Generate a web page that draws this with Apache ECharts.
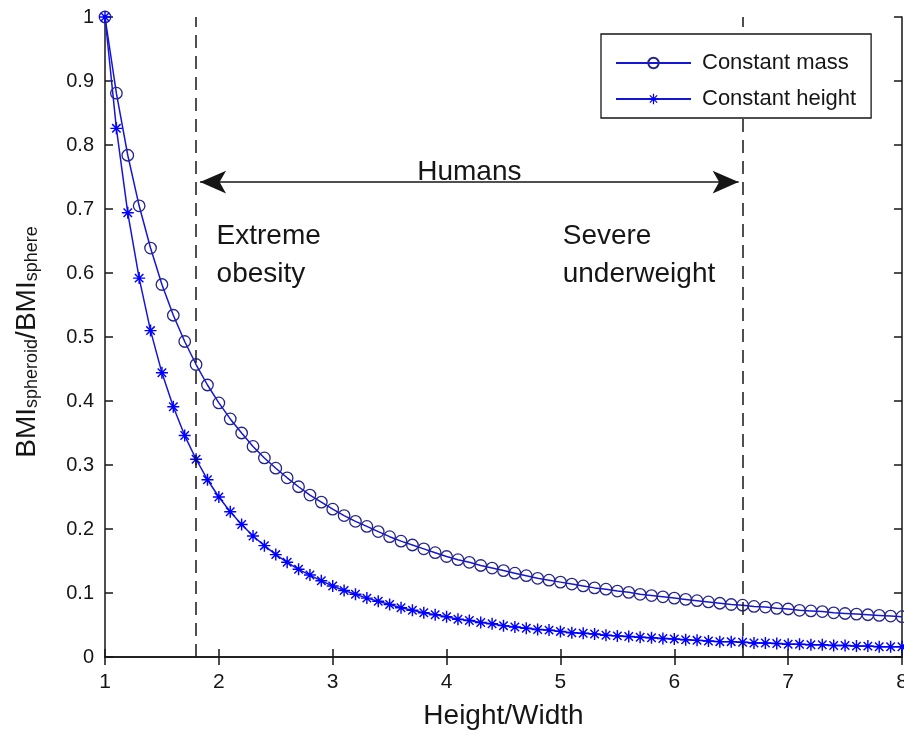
<!DOCTYPE html>
<html>
<head>
<meta charset="utf-8">
<title>BMI spheroid / sphere</title>
<script src="https://cdn.jsdelivr.net/npm/echarts/dist/echarts.min.js"></script>
<style>
  html, body { margin: 0; padding: 0; background: #fff; overflow: hidden; }
  #main { width: 904px; height: 736px; }
</style>
</head>
<body>
<div id="main"></div>
<script>
// Height/Width ratio, one marker every 0.1
var xs = [
  1.0, 1.1, 1.2, 1.3, 1.4, 1.5, 1.6, 1.7, 1.8, 1.9,
  2.0, 2.1, 2.2, 2.3, 2.4, 2.5, 2.6, 2.7, 2.8, 2.9,
  3.0, 3.1, 3.2, 3.3, 3.4, 3.5, 3.6, 3.7, 3.8, 3.9,
  4.0, 4.1, 4.2, 4.3, 4.4, 4.5, 4.6, 4.7, 4.8, 4.9,
  5.0, 5.1, 5.2, 5.3, 5.4, 5.5, 5.6, 5.7, 5.8, 5.9,
  6.0, 6.1, 6.2, 6.3, 6.4, 6.5, 6.6, 6.7, 6.8, 6.9,
  7.0, 7.1, 7.2, 7.3, 7.4, 7.5, 7.6, 7.7, 7.8, 7.9,
  8.0
];
var constantMass = [
  1.000, 0.881, 0.784, 0.705, 0.639, 0.582, 0.534, 0.493, 0.457, 0.425,
  0.397, 0.372, 0.350, 0.329, 0.311, 0.295, 0.280, 0.266, 0.253, 0.242,
  0.231, 0.221, 0.212, 0.204, 0.196, 0.188, 0.181, 0.175, 0.169, 0.163,
  0.157, 0.152, 0.148, 0.143, 0.139, 0.135, 0.131, 0.127, 0.123, 0.120,
  0.117, 0.114, 0.111, 0.108, 0.106, 0.103, 0.101, 0.098, 0.096, 0.094,
  0.092, 0.090, 0.088, 0.086, 0.084, 0.082, 0.081, 0.079, 0.078, 0.076,
  0.075, 0.073, 0.072, 0.071, 0.069, 0.068, 0.067, 0.066, 0.065, 0.064,
  0.063
];
var constantHeight = [
  1.000, 0.826, 0.694, 0.592, 0.510, 0.444, 0.391, 0.346, 0.309, 0.277,
  0.250, 0.227, 0.207, 0.189, 0.174, 0.160, 0.148, 0.137, 0.128, 0.119,
  0.111, 0.104, 0.098, 0.092, 0.087, 0.082, 0.077, 0.073, 0.069, 0.066,
  0.063, 0.059, 0.057, 0.054, 0.052, 0.049, 0.047, 0.045, 0.043, 0.042,
  0.040, 0.038, 0.037, 0.036, 0.034, 0.033, 0.032, 0.031, 0.030, 0.029,
  0.028, 0.027, 0.026, 0.025, 0.024, 0.024, 0.023, 0.022, 0.022, 0.021,
  0.020, 0.020, 0.019, 0.019, 0.018, 0.018, 0.017, 0.017, 0.016, 0.016,
  0.016
];
var seriesNames = ['Constant mass', 'Constant height'];

// the human range and its labels
var humanMin = 1.8;
var humanMax = 6.6;
var humansY = 0.742;
var notes = [
  { x: 1.98, y: 0.687, text: 'Extreme\nobesity' },
  { x: 5.02, y: 0.687, text: 'Severe\nunderweight' }
];

var font = '"Liberation Sans", Arial, Helvetica, sans-serif';
var ink = '#161616';
var blue = '#1616d8';
// matlab '*' marker
var asterisk = 'path://M8.8 0L11.2 0L11.2 20L8.8 20Z M0 8.8L20 8.8L20 11.2L0 11.2Z ' +
  'M3.8 2.1L17.9 16.2L16.2 17.9L2.1 3.8Z M16.2 2.1L17.9 3.8L3.8 17.9L2.1 16.2Z';

function pairs(ys) {
  return xs.map(function (x, i) { return [x, ys[i]]; });
}

var myChart = echarts.init(document.getElementById('main'));

var boxAxis = {
  axisLine: { show: true, lineStyle: { color: ink, width: 1.5 } },
  axisTick: { show: true, inside: true, length: 8, lineStyle: { color: ink, width: 1.5 } },
  axisLabel: { show: false },
  splitLine: { show: false }
};

var option = {
  animation: false,
  backgroundColor: '#fff',
  grid: { left: 105, right: 2, top: 17, bottom: 79, containLabel: false, outerBoundsMode: 'none' },
  legend: {
    z: 20,
    orient: 'vertical',
    left: 601,
    top: 34,
    padding: [18, 15, 8, 14],
    itemWidth: 75,
    itemHeight: 13,
    itemGap: 14,
    backgroundColor: '#fff',
    borderColor: ink,
    borderWidth: 1.3,
    borderRadius: 0,
    textStyle: { fontSize: 22, color: ink, fontFamily: font, padding: [0, 0, 0, 6] },
    data: seriesNames
  },
  xAxis: [
    Object.assign({
      type: 'value', min: 1, max: 8, interval: 1, position: 'bottom',
      name: 'Height/Width', nameLocation: 'middle', nameGap: 45,
      nameTextStyle: { fontSize: 28, color: ink, fontFamily: font }
    }, boxAxis, {
      axisLabel: { show: true, fontSize: 21, color: ink, fontFamily: font, margin: 15 }
    }),
    Object.assign({ type: 'value', min: 1, max: 8, interval: 1, position: 'top' }, boxAxis)
  ],
  yAxis: [
    Object.assign({ type: 'value', min: 0, max: 1, interval: 0.1, position: 'left' }, boxAxis, {
      axisLabel: { show: true, fontSize: 20, color: ink, fontFamily: font, margin: 11 }
    }),
    Object.assign({ type: 'value', min: 0, max: 1, interval: 0.1, position: 'right' }, boxAxis)
  ],
  graphic: [{
    // y axis title with subscripts
    type: 'text',
    x: 27,
    y: 342,
    rotation: Math.PI / 2,
    style: {
      text: '{n|BMI}{s|spheroid}{n|/BMI}{s|sphere}',
      align: 'center',
      verticalAlign: 'middle',
      fill: ink,
      rich: {
        n: { fontSize: 28, fontFamily: font, fill: ink, lineHeight: 28, padding: [0, 0, 18, 0], verticalAlign: 'top' },
        s: { fontSize: 18, fontFamily: font, fill: ink, lineHeight: 18, verticalAlign: 'bottom' }
      }
    }
  }],
  series: [
    {
      name: seriesNames[0],
      type: 'line',
      data: pairs(constantMass),
      symbol: 'circle',
      symbolSize: 11.5,
      lineStyle: { color: blue, width: 1.5 },
      itemStyle: { color: 'rgba(255,255,255,0)', borderColor: '#24248e', borderWidth: 1.3 },
      markLine: {
        silent: true,
        symbol: 'none',
        label: { show: false },
        lineStyle: { color: ink, type: [13, 8], width: 1.5 },
        data: [{ xAxis: humanMin }, { xAxis: humanMax }]
      }
    },
    {
      name: seriesNames[1],
      type: 'line',
      data: pairs(constantHeight),
      symbol: asterisk,
      symbolSize: 12,
      lineStyle: { color: blue, width: 1.5 },
      itemStyle: { color: '#0000ff', borderWidth: 0 },
      markLine: {
        silent: true,
        symbol: ['arrow', 'arrow'],
        symbolSize: [17, 26],
        lineStyle: { color: ink, type: 'solid', width: 1.5 },
        label: {
          show: true, position: 'middle', formatter: 'Humans', distance: -4,
          fontSize: 28, color: ink, fontFamily: font
        },
        data: [[{ coord: [humanMin + 0.035, humansY] }, { coord: [humanMax - 0.035, humansY] }]]
      },
      markPoint: {
        silent: true,
        symbol: 'circle',
        symbolSize: 1,
        itemStyle: { color: 'rgba(0,0,0,0)' },
        label: {
          show: true, position: 'inside', align: 'left', verticalAlign: 'top',
          fontSize: 28, lineHeight: 38, color: ink, fontFamily: font
        },
        data: notes.map(function (n) {
          return { coord: [n.x, n.y], label: { formatter: n.text } };
        })
      }
    }
  ]
};

myChart.setOption(option);
</script>
</body>
</html>
